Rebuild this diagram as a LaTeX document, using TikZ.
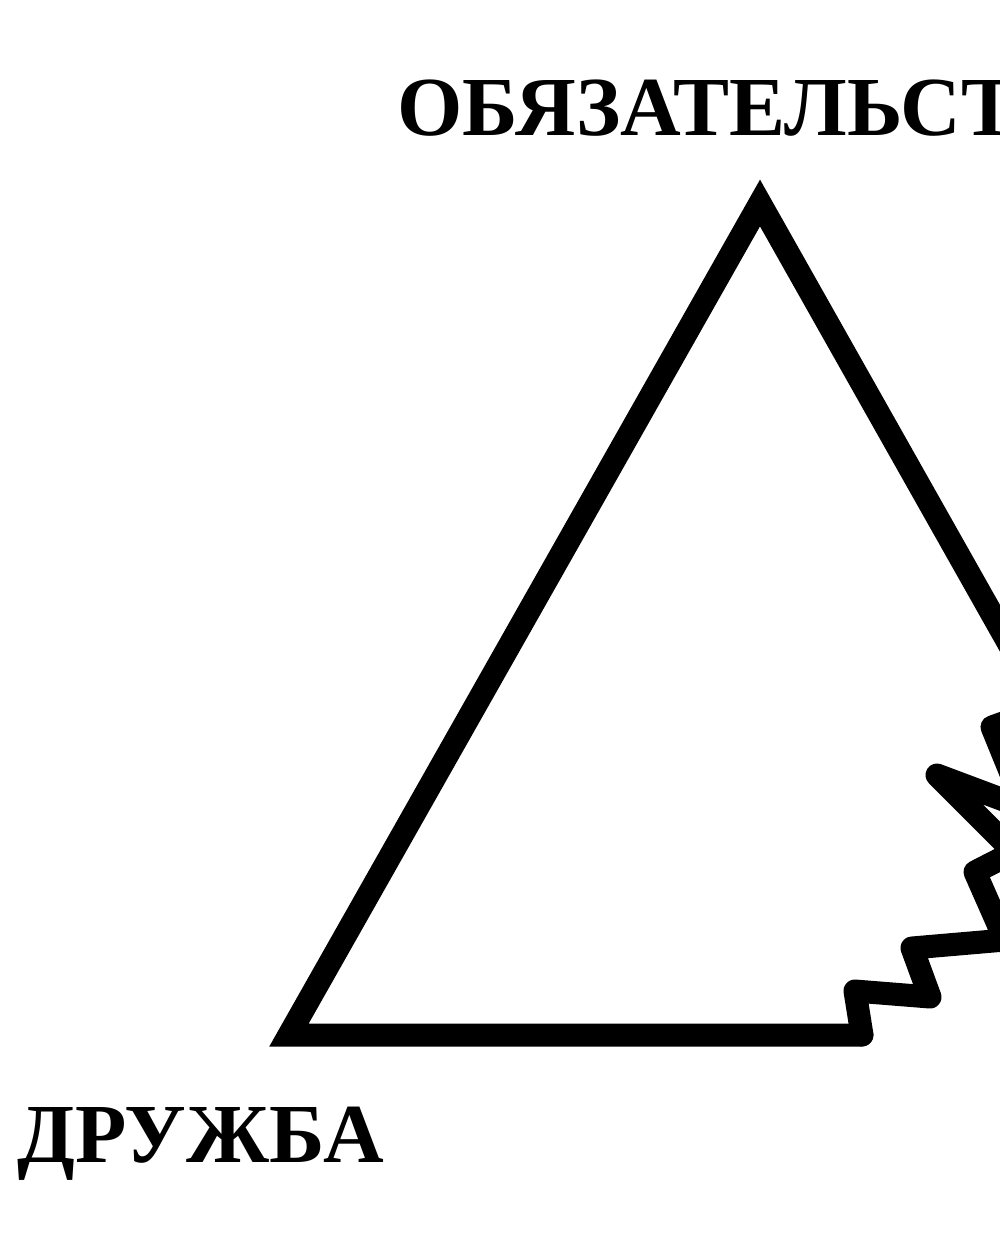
\documentclass[tikz,border=0pt]{standalone}
\usepackage{fontspec}
\setmainfont{Liberation Serif}
\begin{document}
\begin{tikzpicture}[x=0.5pt,y=-0.5pt,
  edge/.style={line width=11.5pt,line join=miter,line cap=round},
  zig/.style={line width=11.5pt,line join=round,line cap=round},
  lbl/.style={inner sep=0pt,font=\fontsize{42}{42}\selectfont\bfseries}]
\useasboundingbox (0,0) rectangle (1000,1250);
\clip (0,0) rectangle (1000,1250);
\fill[white] (0,0) rectangle (1000,1250);
\coordinate (P0) at (862,1035);
\coordinate (L) at (289,1035);
\coordinate (A) at (760,203);
\coordinate (Q) at (1045,708);
\coordinate (P9) at (992,727);
\coordinate (P8) at (1025,808);
\coordinate (P7) at (937,775);
\coordinate (P6) at (1014,852);
\coordinate (P5) at (975,872);
\coordinate (P4) at (1005,940);
\coordinate (P3) at (912,948);
\coordinate (P2) at (930,997);
\coordinate (P1) at (855,991);
\draw[edge] (P0) -- (L) -- (A) -- (Q);
\draw[zig] (Q) -- (P9) -- (P8) -- (P7) -- (P6) -- (P5) -- (P4) -- (P3) -- (P2) -- (P1) -- (P0);
\node[lbl,anchor=base] (top) at (768,135) {ОБЯЗАТЕЛЬСТВО};
\node[lbl,anchor=base west] (left) at (17,1162) {ДРУЖБА};
\end{tikzpicture}
\end{document}
